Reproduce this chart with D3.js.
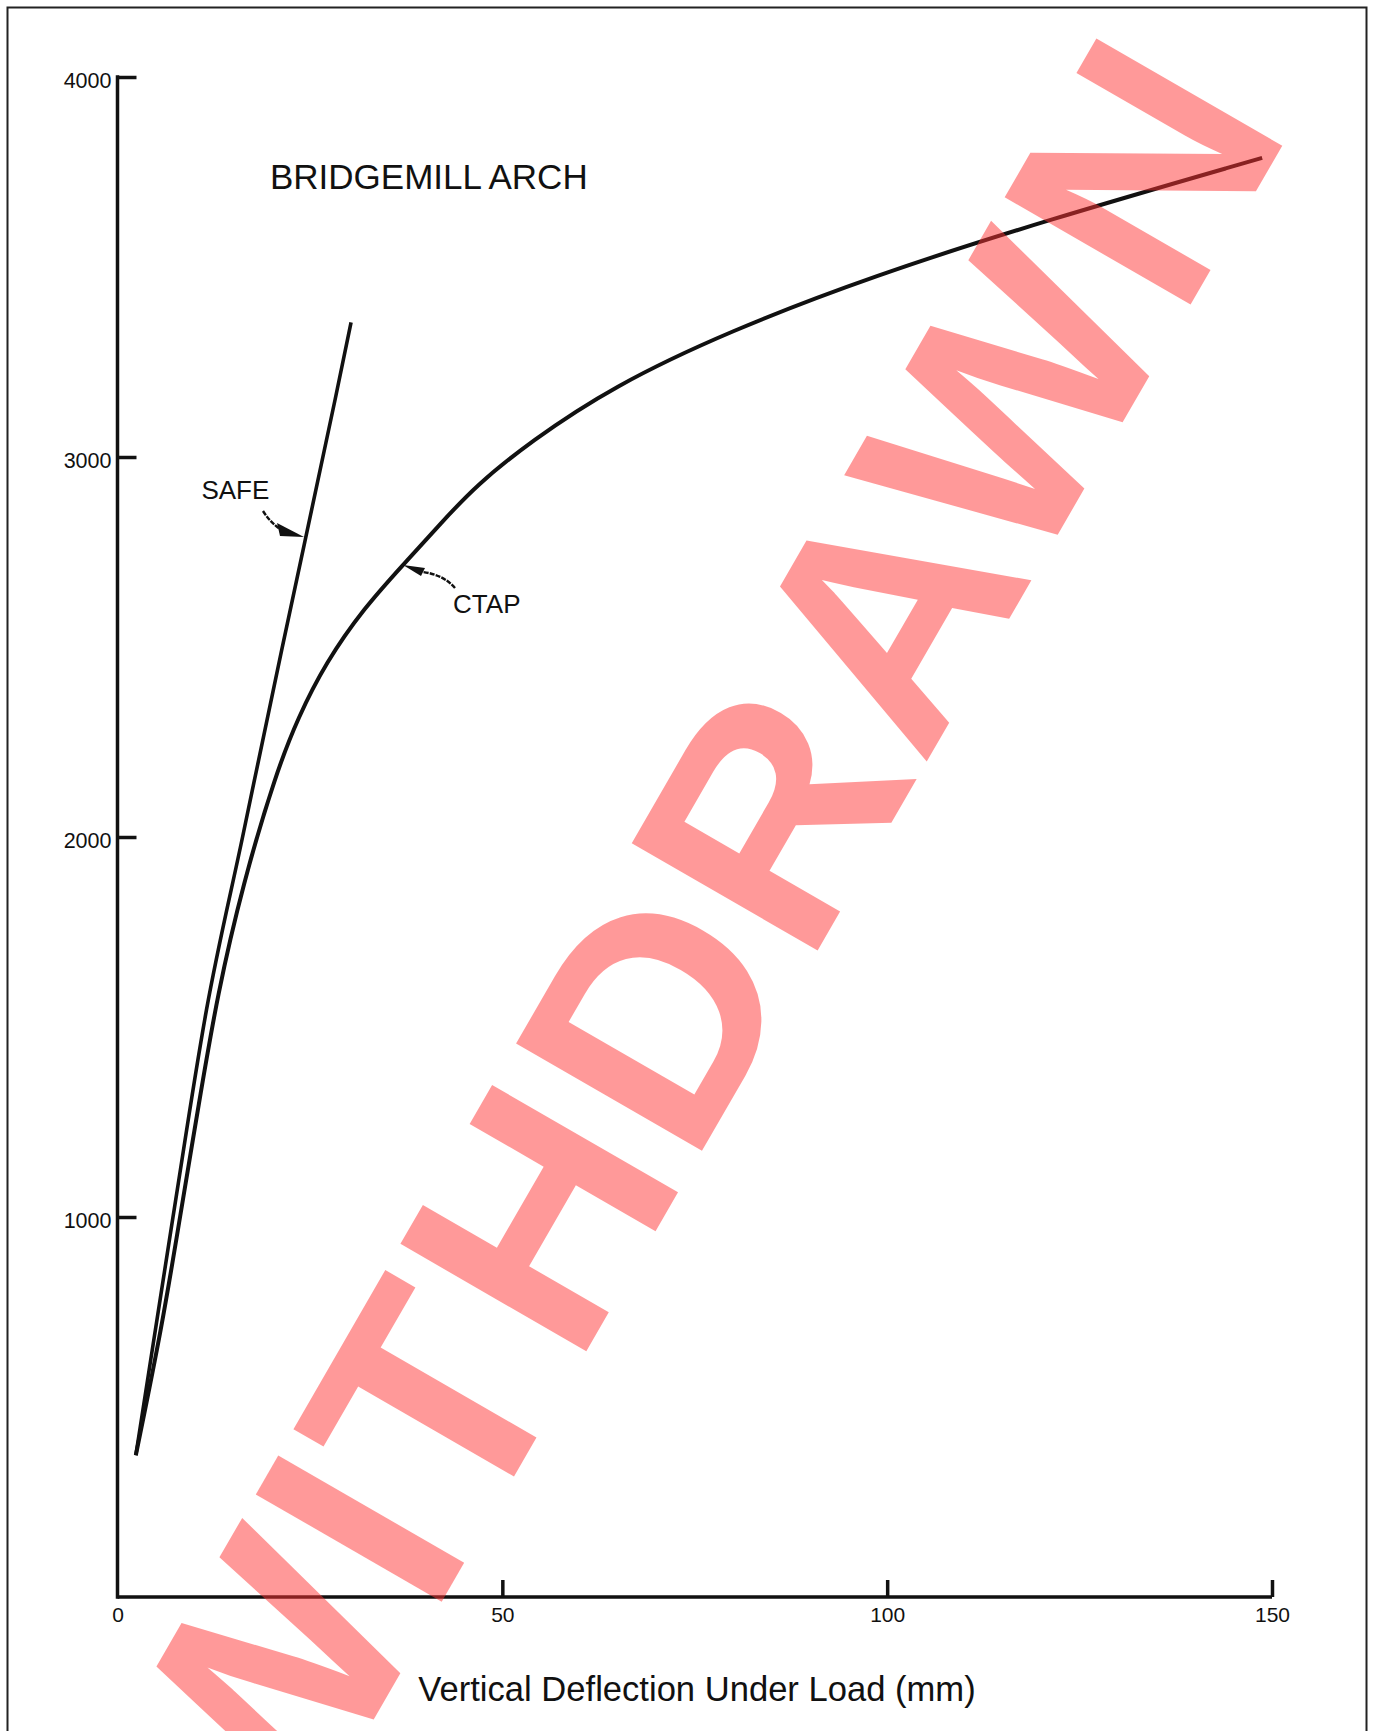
<!DOCTYPE html>
<html>
<head>
<meta charset="utf-8">
<script src="https://cdn.jsdelivr.net/npm/d3@7"></script>
<style>
html,body{margin:0;padding:0;background:#fff;}
svg{display:block;}
text{font-family:"Liberation Sans",Arial,Helvetica,sans-serif;}
</style>
</head>
<body>
<svg id="chart" width="1377" height="1731"></svg>
<script>
// ---- data (deflection mm, load kN) ----
const xTicks = [0, 50, 100, 150];
const yTicks = [1000, 2000, 3000, 4000];
const safeX = [2.38, 7.21, 11.56, 16.25, 21.33, 28.26, 30.34];
const safeY = [373, 1000, 1545, 2000, 2492, 3150, 3354];
const ctapX = [2.38, 5.82, 8.12, 10.56, 12.99, 16.31, 20.59, 23.45, 27.06, 32.08, 37.1, 42.2, 46.6, 53.59, 64.36, 79.42, 98.08, 120.32, 148.72];
const ctapY = [373, 715, 1000, 1297, 1587, 1878, 2168, 2314, 2459, 2604, 2716, 2830, 2925, 3040, 3186, 3331, 3476, 3621, 3787];
const titleText = "BRIDGEMILL ARCH";
const xLabel = "Vertical Deflection Under Load (mm)";
const watermark = "WITHDRAWN";

const svg = d3.select("#chart");
const x = d3.scaleLinear().domain([0, 150]).range([117.5, 1272]);
const y = d3.scaleLinear().domain([0, 4000]).range([1597, 77]);

// frame
svg.append("rect").attr("x", 7.5).attr("y", 7.5).attr("width", 1359).attr("height", 1740)
  .attr("fill", "none").attr("stroke", "#222").attr("stroke-width", 2);

// axes
const xAxis = d3.axisBottom(x).tickValues(xTicks).tickFormat(d3.format("d")).tickSize(0).tickPadding(10);
const gx = svg.append("g").attr("transform", `translate(0,${y(0)})`).call(xAxis);
gx.select(".domain").attr("stroke", "#111").attr("stroke-width", 3.5).attr("d", `M${x(0)},0H${x(150)}`);
gx.selectAll(".tick text").attr("font-size", 21).attr("fill", "#111").attr("dy", "0.71em");
gx.selectAll(".tick").filter(d => d !== 0).append("line")
  .attr("y1", 0).attr("y2", -17).attr("stroke", "#111").attr("stroke-width", 3.5);

const yAxis = d3.axisLeft(y).tickValues(yTicks).tickFormat(d3.format("d")).tickSize(0).tickPadding(6);
const gy = svg.append("g").attr("transform", `translate(${x(0)},0)`).call(yAxis);
gy.select(".domain").attr("stroke", "#111").attr("stroke-width", 3.5).attr("d", `M0,${y(4000) - 1.75}V${y(0) + 1.75}`);
gy.selectAll(".tick text").attr("font-size", 21.5).attr("fill", "#111").attr("dy", "0.5em");
gy.selectAll(".tick").append("line")
  .attr("x1", 0).attr("x2", 19).attr("stroke", "#111").attr("stroke-width", 3.5);

// curves
const safeLine = d3.line().x(d => x(d[0])).y(d => y(d[1])).curve(d3.curveMonotoneX);
const ctapLine = d3.line().x(d => x(d[0])).y(d => y(d[1])).curve(d3.curveBasis);
svg.append("path").datum(safeX.map((v, i) => [v, safeY[i]]))
  .attr("d", safeLine).attr("fill", "none").attr("stroke", "#111").attr("stroke-width", 3.6);
svg.append("path").datum(ctapX.map((v, i) => [v, ctapY[i]]))
  .attr("d", ctapLine).attr("fill", "none").attr("stroke", "#111").attr("stroke-width", 4);

// title & labels
svg.append("text").attr("x", 270).attr("y", 189).attr("font-size", 35).attr("fill", "#111").text(titleText);
svg.append("text").attr("x", 697).attr("y", 1701).attr("text-anchor", "middle").attr("font-size", 34.6).attr("fill", "#111").text(xLabel);

// annotations
svg.append("text").attr("x", x(10.9)).attr("y", y(2890)).attr("font-size", 26).attr("fill", "#111").text("SAFE");
svg.append("text").attr("x", x(43.6)).attr("y", y(2590)).attr("font-size", 26).attr("fill", "#111").text("CTAP");

function arrow(tail, ctrl, end, tip, b1, b2) {
  const p = d3.path();
  p.moveTo(tail[0], tail[1]);
  p.quadraticCurveTo(ctrl[0], ctrl[1], end[0], end[1]);
  svg.append("path").attr("d", p.toString()).attr("fill", "none").attr("stroke", "#111")
    .attr("stroke-width", 2.4).attr("stroke-dasharray", "5,1.2");
  svg.append("path").attr("d", `M${tip[0]},${tip[1]}L${b1[0]},${b1[1]}L${b2[0]},${b2[1]}Z`).attr("fill", "#111");
}
// SAFE arrow (tip on the SAFE line)
arrow([263, 511], [270, 522], [280, 529], [304, 537], [277, 523], [280, 536]);
// CTAP arrow (tip on the CTAP curve)
arrow([455, 588], [444, 575], [423, 572], [403, 565], [425, 568], [421, 576]);

// watermark
svg.append("text").attr("transform", "translate(281,1880) rotate(-60)")
  .attr("text-anchor", "start").attr("font-size", 312).attr("font-weight", "bold")
  .attr("letter-spacing", 6)
  .attr("fill", "#ff3333").attr("fill-opacity", 0.5).text(watermark);
</script>
</body>
</html>
